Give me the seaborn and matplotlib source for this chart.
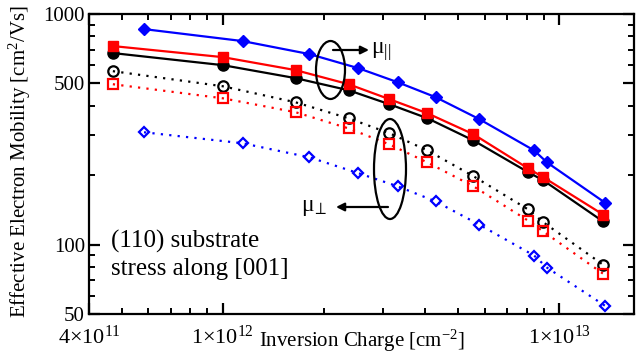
import numpy as np
import pandas as pd
import matplotlib
matplotlib.use("Agg")
import matplotlib.pyplot as plt
import seaborn as sns
from matplotlib.patches import Ellipse
from matplotlib.ticker import FixedLocator, NullFormatter, FixedFormatter

# ---- data ----
x_black_red = [4.71e11, 1.0e12, 1.646e12, 2.366e12, 3.13e12, 4.06e12, 5.56e12, 8.09e12, 8.97e12, 1.351e13]
x_blue = [5.83e11, 1.146e12, 1.81e12, 2.53e12, 3.31e12, 4.29e12, 5.79e12, 8.43e12, 9.21e12, 1.369e13]
mu_par_black = [677, 600, 527, 467, 406, 353, 283, 206, 190, 126]
mu_par_red = [726, 650, 571, 496, 427, 371, 301, 214, 196, 135]
mu_par_blue = [860, 763, 670, 582, 506, 436, 350, 256, 227, 152]
mu_perp_black = [565, 486, 414, 353, 304, 256, 198, 142, 125, 81.8]
mu_perp_red = [496, 431, 375, 319, 272, 227, 179, 127, 114, 74.8]
mu_perp_blue = [307, 275, 239, 204, 179, 154, 122, 89.6, 79.4, 54.3]

y_ticks = [50, 100, 500, 1000]
y_ticklabels = ["50", "100", "500", "1000"]
x_ticks = [4e11, 1e12, 1e13]
x_ticklabels = [r"4$\times$10$^{11}$", r"1$\times$10$^{12}$", r"1$\times$10$^{13}$"]

sns.set_theme(style="ticks")
plt.rcParams["font.family"] = ["Liberation Serif", "DejaVu Serif"]
plt.rcParams["mathtext.fontset"] = "custom"
plt.rcParams["mathtext.rm"] = "Liberation Serif"
plt.rcParams["mathtext.it"] = "Liberation Serif:italic"
plt.rcParams["mathtext.bf"] = "Liberation Serif:bold"
plt.rcParams["axes.edgecolor"] = "black"
plt.rcParams["axes.labelcolor"] = "black"
plt.rcParams["text.color"] = "black"
plt.rcParams["xtick.color"] = "black"
plt.rcParams["ytick.color"] = "black"
plt.rcParams["axes.linewidth"] = 1.6

fig = plt.figure(figsize=(6.37, 3.53), dpi=100)
ax = fig.add_axes([89 / 637, 1 - 314 / 353, 545 / 637, 300 / 353])

dot = (0, (1, 2.8))
series = [
    (x_black_red, mu_par_black, "black", "o", 8.0, "-", True),
    (x_black_red, mu_par_red, "red", "s", 7.5, "-", True),
    (x_blue, mu_par_blue, "blue", "D", 6.4, "-", True),
    (x_black_red, mu_perp_black, "black", "o", 7.5, dot, False),
    (x_black_red, mu_perp_red, "red", "s", 7.0, dot, False),
    (x_blue, mu_perp_blue, "blue", "D", 5.4, dot, False),
]
for xs, ys, c, m, ms, ls, filled in series:
    df = pd.DataFrame({"x": xs, "y": ys})
    sns.lineplot(data=df, x="x", y="y", ax=ax, color=c, marker=m, markersize=ms,
                 linestyle=ls, linewidth=1.6, estimator=None, sort=False,
                 markerfacecolor=(c if filled else "none"), markeredgecolor=c,
                 markeredgewidth=(1.0 if filled else 1.6), legend=False)

ax.set_xscale("log")
ax.set_yscale("log")
ax.set_xlim(4e11, 1.67e13)
ax.set_ylim(50, 1000)

ax.yaxis.set_major_locator(FixedLocator(y_ticks))
ax.yaxis.set_major_formatter(FixedFormatter(y_ticklabels))
ax.yaxis.set_minor_locator(FixedLocator([60, 70, 80, 90, 200, 300, 400, 600, 700, 800, 900]))
ax.yaxis.set_minor_formatter(NullFormatter())
ax.xaxis.set_major_locator(FixedLocator(x_ticks))
ax.xaxis.set_major_formatter(FixedFormatter(x_ticklabels))
minors = [k * 1e11 for k in range(5, 10)] + [k * 1e12 for k in range(2, 10)]
ax.xaxis.set_minor_locator(FixedLocator(minors))
ax.xaxis.set_minor_formatter(NullFormatter())

ax.tick_params(which="both", direction="in", top=True, right=True, colors="black")
ax.tick_params(axis="y", which="major", labelsize=15)
ax.tick_params(which="major", length=8, width=1.6, pad=3)
ax.tick_params(which="minor", length=4.5, width=1.4)
ax.tick_params(axis="x", which="major", pad=8.5, labelsize=16)

ax.set_xlabel(r"Inversion Charge [cm$^{-2}$]", fontsize=15, va="center")
ax.xaxis.set_label_coords(0.5, -0.09)
ax.set_ylabel(r"Effective Electron Mobility [cm$^{2}$/Vs]", fontsize=15, va="center")
ax.yaxis.set_label_coords(-0.127, 0.507)


def fx(px):
    return (px - 89) / 545


def fy(py):
    return (314 - py) / 300


ax.add_patch(Ellipse((fx(330.5), fy(70)), 29 / 545, 58 / 300, transform=ax.transAxes,
                     fill=False, edgecolor="black", linewidth=1.6, zorder=5))
ax.add_patch(Ellipse((fx(390), fy(169)), 32 / 545, 100 / 300, transform=ax.transAxes,
                     fill=False, edgecolor="black", linewidth=1.6, zorder=5))
ax.annotate("", xy=(fx(369), fy(50)), xytext=(fx(333), fy(50)),
            xycoords="axes fraction", textcoords="axes fraction",
            arrowprops=dict(arrowstyle="-|>", color="black", lw=1.6,
                            mutation_scale=12, shrinkA=0, shrinkB=0))
ax.annotate("", xy=(fx(336), fy(207)), xytext=(fx(388), fy(207)),
            xycoords="axes fraction", textcoords="axes fraction",
            arrowprops=dict(arrowstyle="-|>", color="black", lw=1.6,
                            mutation_scale=12, shrinkA=0, shrinkB=0))
ax.text(fx(371), fy(52), r"μ$_{||}$", transform=ax.transAxes, fontsize=17,
        ha="left", va="center")
ax.text(fx(301), fy(207), r"μ$_{\!\perp}$", transform=ax.transAxes, fontsize=17,
        ha="left", va="center")
ax.text(fx(111), fy(241), "(110) substrate", transform=ax.transAxes, fontsize=18,
        ha="left", va="center")
ax.text(fx(111), fy(269), "stress along [001]", transform=ax.transAxes, fontsize=18,
        ha="left", va="center")

fig.savefig("out.png", dpi=100)
